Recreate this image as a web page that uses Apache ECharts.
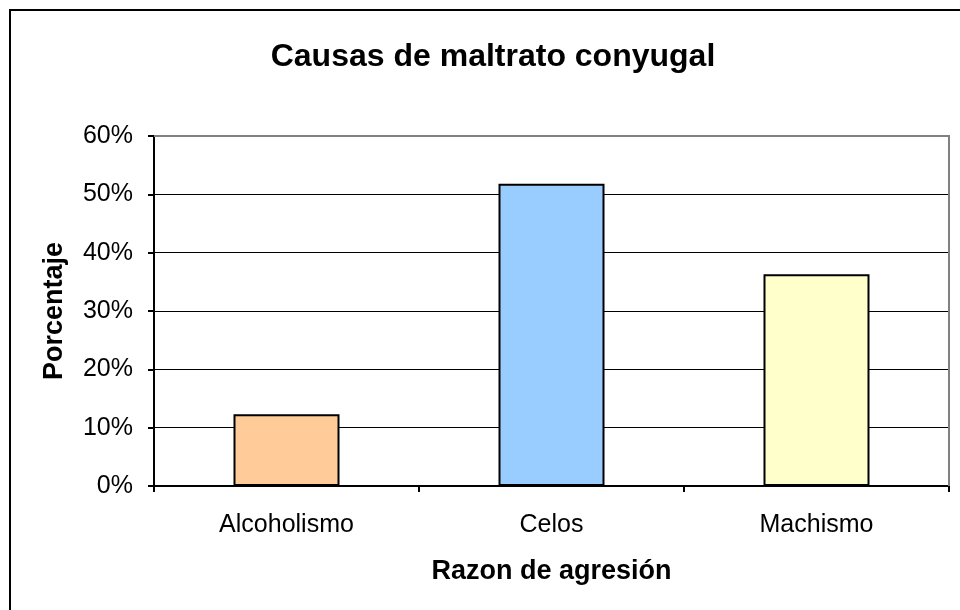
<!DOCTYPE html>
<html>
<head>
<meta charset="utf-8">
<script src="https://cdn.jsdelivr.net/npm/echarts@6/dist/echarts.min.js"></script>
<style>
  html, body { margin: 0; padding: 0; background: #fff; }
  #chart { width: 960px; height: 610px; }
</style>
</head>
<body>
<div id="chart"></div>
<script>
const categories = ['Alcoholismo', 'Celos', 'Machismo']
const values = [12.3, 51.8, 36.3]
const barColors = ['#ffcc99', '#99ccff', '#ffffcc']

const chart = echarts.init(document.getElementById('chart'), null, { renderer: 'canvas' })

const fontFamily = '"Liberation Sans", Arial, sans-serif'

chart.setOption({
  animation: false,
  backgroundColor: '#fff',
  title: {
    text: 'Causas de maltrato conyugal',
    left: 488,
    top: 36,
    textAlign: 'center',
    textStyle: { fontFamily, fontSize: 32, fontWeight: 'bold', color: '#000' },
  },
  graphic: [
    {
      type: 'rect',
      shape: { x: 10, y: 10, width: 980, height: 640 },
      style: { fill: null, stroke: '#000', lineWidth: 2 },
      silent: true,
    },
    {
      type: 'polyline',
      shape: { points: [[154, 136], [949, 136], [949, 486]] },
      style: { stroke: '#808080', lineWidth: 2, fill: null },
      silent: true,
      z: 10,
    },
  ],
  grid: {
    left: 154,
    top: 136,
    right: 11,
    bottom: 124,
  },
  xAxis: {
    type: 'category',
    data: categories,
    name: 'Razon de agresión',
    nameLocation: 'middle',
    nameGap: 72,
    nameTextStyle: { fontFamily, fontSize: 27, fontWeight: 'bold', color: '#000' },
    axisLine: { lineStyle: { color: '#000', width: 2 } },
    axisTick: { show: true, length: 6, lineStyle: { color: '#000', width: 2 } },
    axisLabel: { fontFamily, fontSize: 25, color: '#000', margin: 27 },
  },
  yAxis: {
    type: 'value',
    min: 0,
    max: 60,
    interval: 10,
    name: 'Porcentaje',
    nameLocation: 'middle',
    nameGap: 86,
    nameTextStyle: { fontFamily, fontSize: 27, fontWeight: 'bold', color: '#000' },
    axisLine: { show: true, lineStyle: { color: '#000', width: 2 } },
    axisTick: { show: true, length: 6, lineStyle: { color: '#000', width: 2 } },
    axisLabel: { fontFamily, fontSize: 25, color: '#000', margin: 21, formatter: '{value}%' },
    splitLine: { lineStyle: { color: '#000', width: 1 } },
  },
  series: [
    {
      type: 'bar',
      barWidth: '40%',
      data: values.map((v, i) => ({
        value: v,
        itemStyle: { color: barColors[i], borderColor: '#000', borderWidth: 2 },
      })),
    },
  ],
})
</script>
</body>
</html>
